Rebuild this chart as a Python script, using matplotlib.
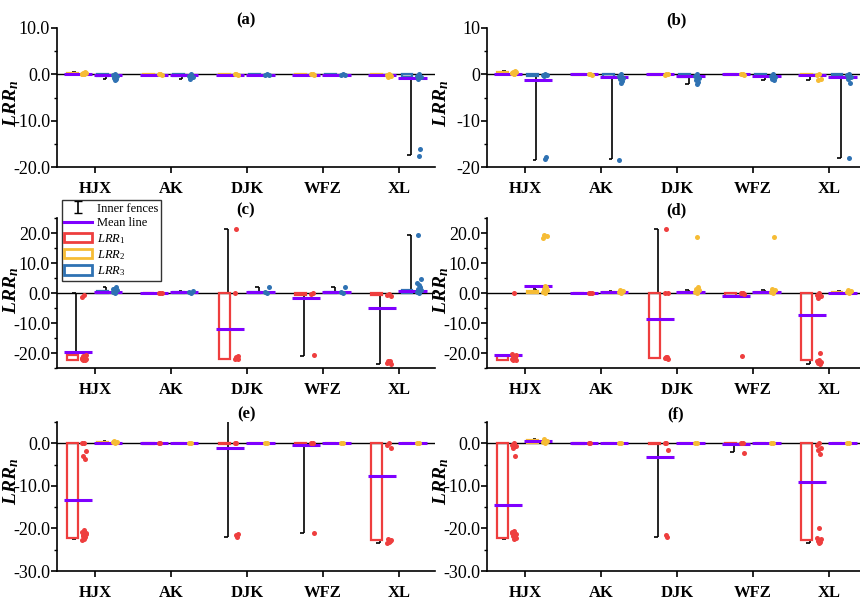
import matplotlib
matplotlib.use('Agg')
import matplotlib.pyplot as plt
from matplotlib.patches import Rectangle, Patch
from matplotlib.lines import Line2D
from matplotlib.ticker import MultipleLocator, FormatStrFormatter

plt.rcParams['font.family'] = ['Liberation Serif', 'DejaVu Serif']
plt.rcParams['mathtext.fontset'] = 'custom'
plt.rcParams['mathtext.rm'] = 'Liberation Serif'
plt.rcParams['mathtext.it'] = 'Liberation Serif:italic'
plt.rcParams['mathtext.bf'] = 'Liberation Serif:bold'
plt.rcParams['mathtext.bfit'] = 'Liberation Serif:italic:bold'

sites = ['HJX', 'AK', 'DJK', 'WFZ', 'XL']

RED = '#EE3E3E'
ORANGE = '#F6BC35'
BLUE = '#2F72B3'
PURPLE = '#7F00FF'

# ---- panel (a): LRR2 / LRR3 ----
a_box = [[(0.0, 0.2), (-0.1, 0.0), (-0.1, 0.0), (-0.1, 0.0), (-0.2, 0.0)],
         [(-0.3, 0.0), (-0.3, 0.0), (-0.1, 0.0), (-0.1, 0.0), (-0.6, 0.0)]]
a_fence = [[(-0.1, 0.4), (-0.1, 0.0), (-0.1, 0.0), (-0.1, 0.0), (-0.4, 0.0)],
           [(-1.0, 0.0), (-0.9, 0.0), (-0.4, 0.0), (-0.4, 0.0), (-17.4, 0.0)]]
a_mean = [[0.05, -0.05, -0.05, -0.05, -0.1],
          [-0.2, -0.2, -0.1, -0.1, -0.7]]
a_points = [[[0.0, 0.1, 0.2, 0.3, 0.4, 0.1, 0.0], [0.0, 0.0, -0.1, 0.0], [0.0, 0.0, -0.1],
             [0.0, 0.0, -0.1], [0.0, -0.2, -0.4, -0.5, -0.1]],
            [[0.0, -0.2, -0.4, -0.7, -1.0, -1.3], [0.0, -0.3, -0.6, -0.9], [0.0, -0.1, -0.2],
             [0.0, -0.1, -0.2], [0.0, -0.3, -0.6, -1.0, -16.1, -17.6]]]

# ---- panel (b): LRR2 / LRR3 ----
b_box = [[(0.0, 0.5), (-0.1, 0.0), (-0.1, 0.0), (-0.1, 0.0), (-0.2, 0.0)],
         [(-0.3, 0.0), (-0.5, 0.0), (-0.5, 0.0), (-0.3, 0.0), (-0.4, 0.0)]]
b_fence = [[(-0.2, 0.8), (-0.1, 0.0), (-0.1, 0.0), (-0.1, 0.0), (-1.2, 0.0)],
           [(-18.5, 0.0), (-18.3, 0.0), (-2.0, 0.0), (-1.2, 0.0), (-18.1, 0.0)]]
b_mean = [[0.1, 0.0, 0.0, 0.0, -0.1],
          [-1.3, -0.6, -0.4, -0.3, -0.5]]
b_points = [[[0.0, 0.2, 0.4, 0.6, 0.8, 0.1, 0.3], [0.0, 0.0, -0.1], [0.0, -0.1, 0.0],
             [0.0, 0.0, -0.1], [0.0, -0.1, -1.1, -1.2]],
            [[0.0, -0.1, -0.2, -0.3, -17.8, -18.3], [0.0, -0.3, -0.7, -1.1, -1.5, -1.9, -18.5],
             [0.0, -0.4, -0.8, -1.2, -1.6, -2.0], [0.0, -0.3, -0.6, -0.9, -1.2],
             [0.0, -0.2, -0.5, -0.9, -1.8, -18.1]]]

# ---- panel (c): LRR1 / LRR3 ----
c_box = [[(-22.3, -20.8), (-0.1, 0.0), (-22.0, 0.0), (-0.5, 0.0), (-0.6, 0.0)],
         [(0.0, 0.8), (0.0, 0.4), (0.0, 0.3), (0.0, 0.3), (0.0, 1.0)]]
c_fence = [[(-22.3, 0.0), (0.0, 0.0), (-22.0, 21.3), (-21.0, 0.0), (-23.6, 0.0)],
           [(0.0, 2.0), (0.0, 0.8), (0.0, 2.0), (0.0, 2.0), (0.0, 19.2)]]
c_mean = [[-19.6, 0.0, -11.9, -1.8, -5.0],
          [0.5, 0.3, 0.2, 0.2, 0.8]]
c_points = [[[-0.5, -1.2, -20.8, -21.0, -21.3, -21.6, -21.8, -22.0, -22.2, -22.4, -21.5, -22.1],
             [0.0, 0.0, 0.0], [21.4, 0.0, -21.0, -21.3, -21.5, -21.7, -21.9, -22.0],
             [0.0, -0.2, -20.7], [-0.3, -0.6, -1.0, -22.5, -22.8, -23.0, -23.3, -23.5]],
            [[0.0, 0.5, 1.0, 1.5, 2.0, 0.3, 1.2], [0.0, 0.3, 0.6], [0.0, 0.3, 1.9],
             [0.0, 0.5, 1.9], [0.0, 0.5, 1.0, 1.5, 2.0, 2.8, 3.5, 4.6, 19.3]]]

# ---- panel (d): LRR1 / LRR2 ----
d_box = [[(-22.2, -21.0), (-0.1, 0.0), (-21.8, 0.0), (-1.0, 0.0), (-22.3, 0.0)],
         [(0.0, 0.8), (0.0, 0.3), (0.0, 0.5), (0.0, 0.5), (0.0, 0.3)]]
d_fence = [[(-22.3, -21.0), (0.0, 0.0), (-21.8, 21.4), (-1.0, 0.0), (-23.6, 0.0)],
           [(0.0, 1.5), (0.0, 0.8), (0.0, 1.0), (0.0, 1.0), (0.0, 0.8)]]
d_mean = [[-20.6, 0.0, -8.7, -1.1, -7.2],
          [2.5, 0.2, 0.5, 0.5, 0.1]]
d_points = [[[0.0, -20.4, -20.7, -21.0, -21.3, -21.6, -21.9, -22.2, -22.4, -21.1, -21.8],
             [0.0, 0.0, -0.1], [21.3, 0.0, 0.0, -21.2, -21.4, -21.6, -21.8, -22.0],
             [0.0, 0.0, -0.3, -21.0], [0.0, -0.5, -1.0, -1.5, -20.0, -22.4, -22.7, -23.0, -23.3, -23.6]],
            [[0.0, 0.5, 1.0, 1.5, 2.0, 2.5, 18.5, 19.0, 19.5], [0.0, 0.3, 0.6, 1.0],
             [0.0, 0.5, 1.0, 1.5, 2.0, 18.8], [0.0, 0.5, 1.0, 1.5, 18.8], [0.0, 0.3, 0.6, 1.0]]]

# ---- panel (e): LRR1 / LRR2 ----
e_box = [[(-22.2, 0.0), (-0.1, 0.0), (-0.2, 0.0), (-0.2, 0.0), (-22.8, 0.0)],
         [(0.0, 0.3), (0.0, 0.1), (0.0, 0.1), (0.0, 0.1), (0.0, 0.1)]]
e_fence = [[(-22.4, 0.0), (0.0, 0.0), (-22.0, 21.4), (-21.0, 0.0), (-23.4, 0.0)],
           [(0.0, 0.6), (0.0, 0.0), (0.0, 0.0), (0.0, 0.0), (0.0, 0.0)]]
e_mean = [[-13.4, 0.0, -1.1, -0.3, -7.7],
          [0.1, 0.0, 0.0, 0.0, 0.0]]
e_points = [[[0.0, 0.0, -1.8, -2.9, -3.6, -20.4, -20.8, -21.2, -21.6, -22.0, -22.4, -22.8, -21.0, -21.8],
             [0.0, 0.0], [0.0, 0.0, -21.2, -21.6, -22.0], [0.0, 0.0, -21.0],
             [0.0, -0.3, -1.0, -22.6, -22.9, -23.2, -23.5, -22.8]],
            [[0.0, 0.2, 0.4, 0.5], [0.0, 0.0], [0.0, 0.0], [0.0, 0.0], [0.0, 0.0]]]

# ---- panel (f): LRR1 / LRR2 ----
f_box = [[(-22.2, 0.0), (-0.1, 0.0), (-0.2, 0.0), (-0.2, 0.0), (-22.8, 0.0)],
         [(0.0, 0.7), (0.0, 0.1), (0.0, 0.1), (0.0, 0.1), (0.0, 0.1)]]
f_fence = [[(-22.4, 0.0), (0.0, 0.0), (-22.0, 0.0), (-2.1, 0.0), (-23.4, 0.0)],
           [(0.0, 0.9), (0.0, 0.0), (0.0, 0.0), (0.0, 0.0), (0.0, 0.0)]]
f_mean = [[-14.6, 0.0, -3.3, -0.1, -9.1],
          [0.5, 0.0, 0.0, 0.0, 0.0]]
f_points = [[[0.0, -0.3, -0.6, -1.0, -2.9, -20.5, -20.9, -21.3, -21.7, -22.1, -22.5, -21.0, -22.3],
             [0.0, 0.0], [0.0, 0.0, -1.5, -21.5, -21.9], [0.0, 0.0, -2.2],
             [0.0, -0.5, -1.0, -1.6, -2.4, -20.0, -22.2, -22.6, -22.9, -23.2, -23.5]],
            [[0.0, 0.3, 0.6, 1.0], [0.0, 0.0], [0.0, 0.0], [0.0, 0.0], [0.0, 0.0]]]

series_offset = [-0.3, 0.1]
jitter = [0.0, -0.025, 0.025, -0.012, 0.012]


def draw_panel(ax, colors, box, fence, mean, points):
    ax.axhline(0, color='k', lw=1.0, zorder=1)
    for j, col in enumerate(colors):
        for i in range(len(sites)):
            c = i + 1 + series_offset[j]
            lo, hi = box[j][i]
            flo, fhi = fence[j][i]
            ax.add_patch(Rectangle((c - 0.07, lo), 0.14, hi - lo, fill=False,
                                   ec=col, lw=1.6, zorder=3))
            wx = c + 0.05
            ax.vlines(wx, flo, lo, color='k', lw=1.2, zorder=2)
            ax.vlines(wx, hi, fhi, color='k', lw=1.2, zorder=2)
            ax.hlines([flo, fhi], c, wx, color='k', lw=1.2, zorder=2)
            ax.hlines(mean[j][i], c - 0.11, c + 0.26, color=PURPLE, lw=2.2, zorder=4)
            pts = points[j][i]
            xs = [c + 0.16 + jitter[k % len(jitter)] for k in range(len(pts))]
            ax.scatter(xs, pts, s=13, color=col, lw=0, zorder=5)


def style_axes(ax, title, ylim, major, fmt, label_y):
    ax.set_xlim(0.5, 5.47)
    ax.set_ylim(*ylim)
    for s in ['top', 'right']:
        ax.spines[s].set_visible(False)
    for s in ['left', 'bottom']:
        ax.spines[s].set_linewidth(1.2)
    ax.set_xticks(range(1, 6))
    ax.set_xticklabels(sites, fontweight='bold', fontsize=12)
    ax.yaxis.set_major_locator(MultipleLocator(major))
    ax.yaxis.set_minor_locator(MultipleLocator(major / 2))
    ax.yaxis.set_major_formatter(FormatStrFormatter(fmt))
    ax.tick_params(axis='x', direction='out', length=4, width=1.2, pad=6)
    ax.tick_params(axis='y', which='major', direction='out', length=4, width=1.2,
                   pad=1, labelsize=13)
    ax.tick_params(axis='y', which='minor', direction='out', length=2.5, width=1.0)
    ax.set_ylabel(r'$\mathbfit{LRR}_{\mathbfit{n}}$', fontsize=14)
    ax.yaxis.set_label_coords(-0.095, label_y)
    ax.set_title(title, fontweight='bold', fontsize=12, pad=1)


fig = plt.figure(figsize=(8.6, 6.0), dpi=100)
W = 378 / 860
lefts = [57 / 860, 487 / 860]
rows = [(1 - 167 / 600, 139 / 600), (1 - 368 / 600, 150 / 600), (1 - 571 / 600, 149 / 600)]

panels = [
    ('(a)', [ORANGE, BLUE], a_box, a_fence, a_mean, a_points, (-20, 10), 10, '%.1f'),
    ('(b)', [ORANGE, BLUE], b_box, b_fence, b_mean, b_points, (-20, 10), 10, '%d'),
    ('(c)', [RED, BLUE], c_box, c_fence, c_mean, c_points, (-25, 25), 10, '%.1f'),
    ('(d)', [RED, ORANGE], d_box, d_fence, d_mean, d_points, (-25, 25), 10, '%.1f'),
    ('(e)', [RED, ORANGE], e_box, e_fence, e_mean, e_points, (-30, 5), 10, '%.1f'),
    ('(f)', [RED, ORANGE], f_box, f_fence, f_mean, f_points, (-30, 5), 10, '%.1f'),
]
label_ys = [0.46, 0.52, 0.6]

axes = []
for k, (title, colors, box, fence, mean, pts, ylim, major, fmt) in enumerate(panels):
    r, col = divmod(k, 2)
    bottom, h = rows[r]
    ax = fig.add_axes([lefts[col], bottom, W, h])
    draw_panel(ax, colors, box, fence, mean, pts)
    style_axes(ax, title, ylim, major, fmt, label_ys[r])
    axes.append(ax)

# legend in panel (c)
axc = axes[2]
fence_h = axc.errorbar([float('nan')], [float('nan')], yerr=[1], fmt='none',
                       ecolor='k', elinewidth=1.2, capsize=3)
handles = [fence_h,
           Line2D([], [], color=PURPLE, lw=2.2),
           Patch(fc='white', ec=RED, lw=2),
           Patch(fc='white', ec=ORANGE, lw=2),
           Patch(fc='white', ec=BLUE, lw=2)]
labels = ['Inner fences', 'Mean line', r'$LRR_1$', r'$LRR_2$', r'$LRR_3$']
leg = axc.legend(handles, labels, loc='upper left', bbox_to_anchor=(0.013, 1.12),
                 fontsize=9, frameon=True, fancybox=False, edgecolor='k',
                 handlelength=2.2, handleheight=0.8, labelspacing=0.2,
                 handletextpad=0.4, borderpad=0.2, borderaxespad=0)
leg.get_frame().set_linewidth(1.0)
leg.set_zorder(10)

fig.savefig('out.png', dpi=100)
